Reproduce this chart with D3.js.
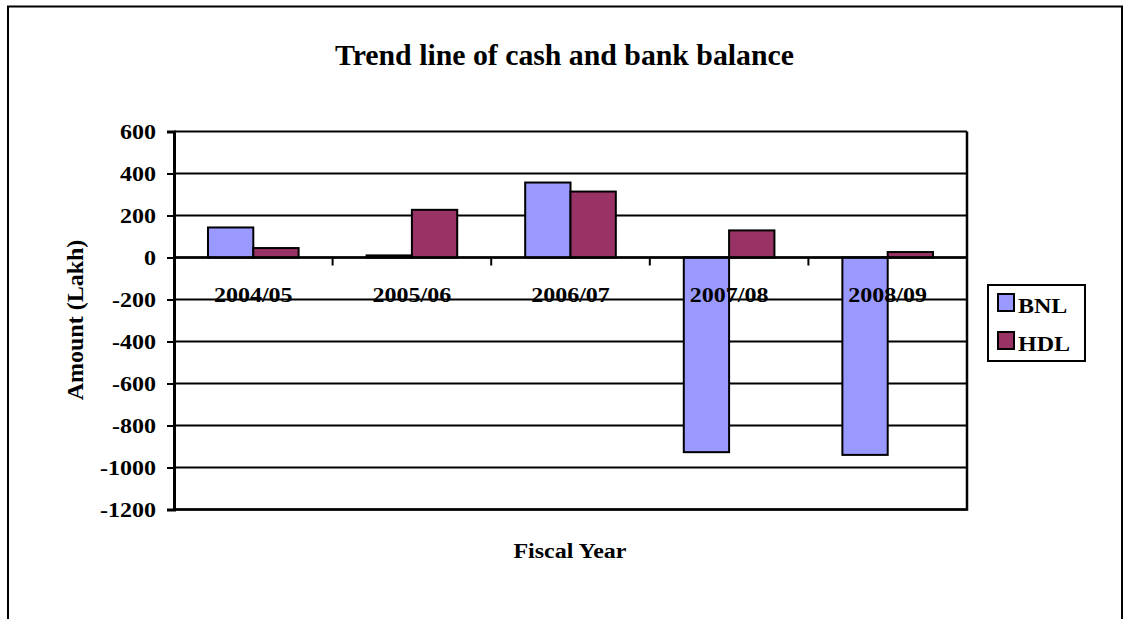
<!DOCTYPE html>
<html>
<head>
<meta charset="utf-8">
<script src="https://cdn.jsdelivr.net/npm/d3@7"></script>
<style>
  body { margin: 0; background: #fff; }
  text { font-family: "Liberation Serif", "Times New Roman", serif; font-weight: bold; fill: #000; }
</style>
</head>
<body>
<svg id="chart" width="1124" height="619"></svg>
<script>
(function (d3) {
    'use strict';

    // data
    const years = ['2004/05', '2005/06', '2006/07', '2007/08', '2008/09'];
    const series = ['BNL', 'HDL'];
    const bnl = [143, 10, 357, -927, -940];
    const hdl = [45, 227, 314, 129, 26];
    const yTicks = [600, 400, 200, 0, -200, -400, -600, -800, -1000, -1200];
    const colors = ['#9999ff', '#993366'];

    const values = { BNL: bnl, HDL: hdl };

    const svg = d3.select('#chart');

    // stretch text sideways, the picture is a bit wide
    const widen = (sel, k) => sel.each(function () {
        const w = this.getComputedTextLength();
        d3.select(this).attr('textLength', w * k).attr('lengthAdjust', 'spacingAndGlyphs');
    });

    // outer frame
    svg.append('path')
        .attr('d', 'M8,619 V6.5 H1122 V619')
        .attr('fill', 'none').attr('stroke', '#000').attr('stroke-width', 2);

    const left = 174, right = 967, top = 131.5, bottom = 509.5;

    const x = d3.scaleBand().domain(years).range([left, right])
        .paddingInner(1.5 / 3.5).paddingOuter(0.75 / 3.5);
    const x1 = d3.scaleBand().domain(series).range([0, x.bandwidth()]);
    const y = d3.scaleLinear().domain([-1200, 600]).range([bottom, top]);

    // gridlines
    svg.append('g').selectAll('line').data(yTicks).enter().append('line')
        .attr('x1', left).attr('x2', right)
        .attr('y1', d => y(d)).attr('y2', d => y(d))
        .attr('stroke', '#000').attr('stroke-width', 2);

    // plot border right and bottom
    svg.append('path')
        .attr('d', `M${right},${top} V${bottom} H${left}`)
        .attr('fill', 'none').attr('stroke', '#000').attr('stroke-width', 2.5);

    // bars
    const groups = svg.append('g').selectAll('g').data(years).enter().append('g')
        .attr('transform', d => `translate(${x(d)},0)`);
    groups.selectAll('rect')
        .data((d, i) => series.map(s => ({ s, v: values[s][i] })))
        .enter().append('rect')
        .attr('x', d => x1(d.s))
        .attr('width', x1.bandwidth())
        .attr('y', d => y(Math.max(0, d.v)))
        .attr('height', d => Math.abs(y(d.v) - y(0)))
        .attr('fill', (d, i) => colors[i])
        .attr('stroke', '#000').attr('stroke-width', 2);

    // y axis
    const yAxis = svg.append('g')
        .attr('transform', `translate(${left},0)`)
        .call(d3.axisLeft(y).tickValues(yTicks).tickSize(7).tickPadding(11).tickFormat(d => String(d)));
    yAxis.select('.domain').attr('stroke', '#000').attr('stroke-width', 3);
    yAxis.selectAll('.tick line').attr('stroke', '#000').attr('stroke-width', 2);
    yAxis.selectAll('.tick text')
        .style('font-family', '"Liberation Serif", serif').style('font-weight', 'bold')
        .style('font-size', '20px').attr('fill', '#000').attr('dy', '0.34em');
    widen(yAxis.selectAll('.tick text'), 1.2);

    // category ticks on the zero line
    const bounds = years.slice(1).map(d => x(d) - x.step() * x.paddingInner() / 2);
    svg.append('g').selectAll('line').data(bounds).enter().append('line')
        .attr('x1', d => d).attr('x2', d => d)
        .attr('y1', y(0)).attr('y2', y(0) + 8)
        .attr('stroke', '#000').attr('stroke-width', 2);

    // zero line on top of the bars
    svg.append('line')
        .attr('x1', left).attr('x2', right).attr('y1', y(0)).attr('y2', y(0))
        .attr('stroke', '#000').attr('stroke-width', 2.5);

    // category labels
    const cats = svg.append('g').selectAll('text').data(years).enter().append('text')
        .attr('x', d => x(d) + x.bandwidth() / 2)
        .attr('y', 302)
        .attr('text-anchor', 'middle')
        .style('font-size', '20px')
        .text(d => d);
    widen(cats, 1.2);

    // title
    svg.append('text')
        .attr('x', 564.5).attr('y', 65)
        .attr('text-anchor', 'middle')
        .attr('textLength', 459).attr('lengthAdjust', 'spacingAndGlyphs')
        .style('font-size', '30px')
        .text('Trend line of cash and bank balance');

    // axis titles
    svg.append('text')
        .attr('transform', 'translate(83,320) rotate(-90)')
        .attr('text-anchor', 'middle')
        .style('font-size', '24px')
        .text('Amount (Lakh)');

    const xt = svg.append('text')
        .attr('x', 570).attr('y', 558)
        .attr('text-anchor', 'middle')
        .style('font-size', '20px')
        .text('Fiscal Year');
    widen(xt, 1.2);

    // legend
    const legend = svg.append('g');
    legend.append('rect')
        .attr('x', 988).attr('y', 285).attr('width', 97).attr('height', 76)
        .attr('fill', '#fff').attr('stroke', '#000').attr('stroke-width', 2);
    const items = legend.selectAll('g').data(series).enter().append('g')
        .attr('transform', (d, i) => `translate(998,${294 + i * 38})`);
    items.append('rect')
        .attr('width', 16).attr('height', 17)
        .attr('fill', (d, i) => colors[i])
        .attr('stroke', '#000').attr('stroke-width', 2);
    const lt = items.append('text')
        .attr('x', 20).attr('y', 19)
        .style('font-size', '20px')
        .text(d => d);
    widen(lt, 1.2);
}(d3));
</script>
</body>
</html>
